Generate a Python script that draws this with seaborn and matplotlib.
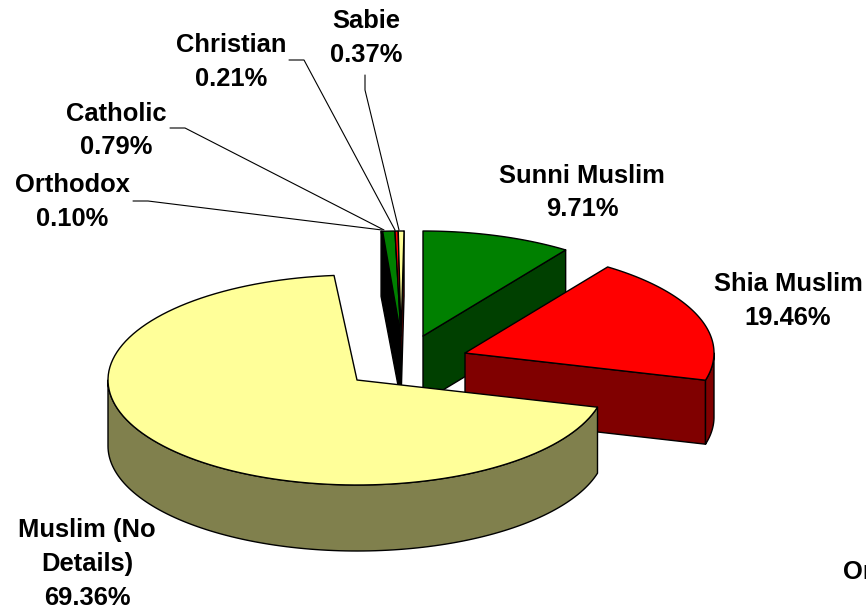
import numpy as np
import matplotlib.pyplot as plt
import seaborn as sns
from matplotlib.patches import Polygon

# slices clockwise from 12 o'clock
names = ["Sunni Muslim", "Shia Muslim", "Muslim (No\nDetails)", "Orthodox", "Catholic", "Christian", "Sabie"]
shares = [9.71, 19.46, 69.36, 0.10, 0.79, 0.21, 0.37]
share_labels = ["9.71%", "19.46%", "69.36%", "0.10%", "0.79%", "0.21%", "0.37%"]

top_colors = sns.color_palette(["#008000", "#ff0000", "#ffff99", "#000000",
                                "#008000", "#ff0000", "#ffff99"])
side_colors = [tuple(c * 0.5 for c in col) for col in top_colors]
side_colors[6] = side_colors[1]  # the thin end wall reads dark red in the original

RX, RY = 249, 105
# where each slice's point sits after the explosion, and how tall it is drawn
apex = [(423, 336), (465, 353), (357, 380), (401, 336), (401, 336), (401, 336), (401, 336)]
depth = [66, 64, 66, 65, 65, 65, 65]
turn = [0, 0, 0, 0.7, 0.7, 0.7, 0.7]

# label text centres
label_xy = [(582, 192.5), (788, 301), (87, 564), (72.5, 202), (116, 130.5), (231, 62), (366.5, 38)]
# elbowed leader lines for the small slices
leaders = {
    3: [(133, 201), (148, 201), (382, 230)],
    4: [(170, 128), (185, 128), (384, 230)],
    5: [(289, 60), (304, 60), (395, 230)],
    6: [(365, 75), (365, 90), (399, 230)],
}

sns.set_theme(style="white")
plt.rcParams["font.family"] = ["Liberation Sans", "DejaVu Sans"]

fig = plt.figure(figsize=(8.66, 6.10), dpi=100)
ax = fig.add_axes([0, 0, 1, 1])
ax.set_xlim(0, 866)
ax.set_ylim(610, 0)
ax.axis("off")


def rim(c, a0, a1, n=120):
    t = np.radians(np.linspace(a0, a1, n))
    return np.c_[c[0] + RX * np.sin(t), c[1] - RY * np.cos(t)]


def face(pts, color, z):
    ax.add_patch(Polygon(pts, closed=True, fc=color, ec="black", lw=1.0, joinstyle="round", zorder=z))


edges = np.r_[0, np.cumsum(shares)] / sum(shares) * 360
# small slices first, the big yellow one last
order = [3, 4, 5, 6, 0, 1, 2]
for z, i in enumerate(order):
    a0, a1 = edges[i] + turn[i], edges[i + 1] + turn[i]
    c, d = np.array(apex[i], float), depth[i]
    drop = np.array([0, d])
    z = z * 10

    # cut walls facing the viewer; inside the small cluster only the outer two show
    if i == 3:
        p = rim(c, a0, a0, 1)[0]
        face([c, p, p + drop, c + drop], side_colors[i], z)
    if np.sin(np.radians(a1)) > 0:
        p = rim(c, a1, a1, 1)[0]
        face([c, p, p + drop, c + drop], side_colors[i], z + 1)

    # outer wall, only the front half of the ellipse shows
    lo, hi = max(a0, 90), min(a1, 270)
    if hi > lo:
        r = rim(c, lo, hi)
        face(np.r_[r, (r + drop)[::-1]], side_colors[i], z + 2)

    face(np.r_[[c], rim(c, a0, a1)], top_colors[i], z + 3)

for i, (x, y) in enumerate(label_xy):
    ax.text(x, y, f"{names[i]}\n{share_labels[i]}", ha="center", va="center", fontsize=18.4,
            fontweight="bold", color="black", linespacing=1.52, zorder=200)

for i, pts in leaders.items():
    xs, ys = zip(*pts)
    ax.plot(xs, ys, color="black", lw=0.8, zorder=150)

ax.text(843, 572, "Or", ha="left", va="center", fontsize=18.4, fontweight="bold", color="black")

fig.savefig("out.png", dpi=100)
